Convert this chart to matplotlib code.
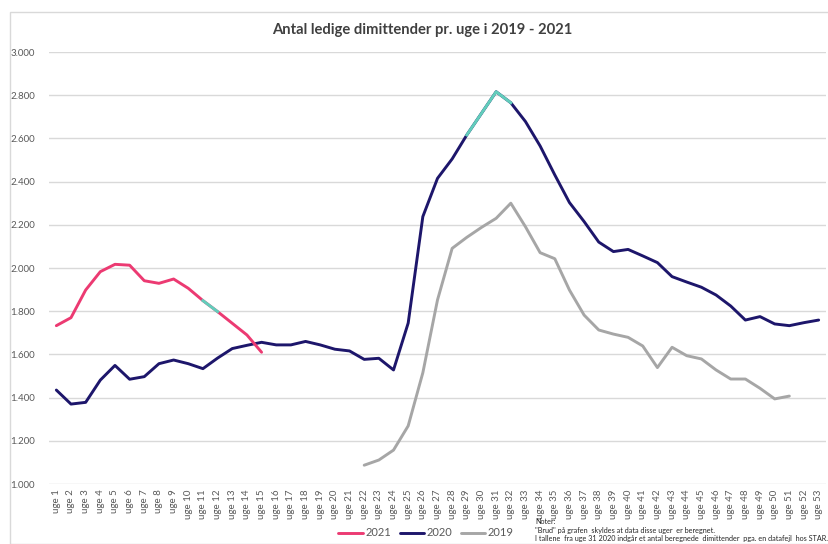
import numpy as np
import matplotlib.pyplot as plt
from matplotlib.patches import Rectangle

plt.rcParams['font.family'] = ['Lato', 'DejaVu Sans']

weeks = list(range(1, 54))
week_labels = [f"uge {w}" for w in weeks]

# 2021: uge 1-15
y2021 = [1733, 1770, 1898, 1983, 2017, 2013, 1941, 1929, 1949, 1906,
         1849, 1798, 1744, 1690, 1610]

# 2020: uge 1-53
y2020 = [1435, 1370, 1378, 1481, 1549, 1485, 1497, 1557, 1574, 1557,
         1534, 1583, 1627, 1642, 1656, 1644, 1644, 1660, 1644, 1624,
         1616, 1577, 1582, 1528, 1745, 2238, 2415, 2505, 2616, 2716,
         2816, 2765, 2678, 2565, 2431, 2303, 2215, 2120, 2076, 2086,
         2056, 2025, 1960, 1935, 1911, 1875, 1824, 1759, 1775, 1741,
         1733, 1747, 1759]

# 2019: uge 22-51
y2019 = [1087, 1111, 1157, 1269, 1515, 1852, 2091, 2142, 2188, 2230,
         2300, 2191, 2071, 2043, 1898, 1782, 1713, 1694, 1679, 1639,
         1539, 1633, 1594, 1579, 1528, 1486, 1486, 1443, 1394, 1407]
start2019 = 22

# "brud" (beregnede uger) - drawn in teal
brud2021 = (11, 12)
brud2020 = (29, 32)

c2021 = '#EC3A72'
c2020 = '#1D166B'
c2019 = '#A6A6A6'
cbrud = '#62CDBB'
txt = '#595959'

fig = plt.figure(figsize=(8.29, 5.44), dpi=100)
ax = fig.add_axes([49 / 829, 1 - 484 / 544, 777 / 829, 432 / 544])

# chart border
fig.patches.append(Rectangle((10 / 829, 0), 1, 1 - 12 / 544, transform=fig.transFigure,
                             fill=False, edgecolor='#D9D9D9', lw=1))

x2021 = weeks[:len(y2021)]
x2019 = list(range(start2019, start2019 + len(y2019)))

ax.plot(x2019, y2019, color=c2019, lw=2.1, label='2019', solid_capstyle='round')
ax.plot(weeks, y2020, color=c2020, lw=2.1, label='2020', solid_capstyle='round')
ax.plot(x2021, y2021, color=c2021, lw=2.1, label='2021', solid_capstyle='round')

a, b = brud2021
ax.plot(weeks[a - 1:b], y2021[a - 1:b], color=cbrud, lw=2.1)
a, b = brud2020
ax.plot(weeks[a - 1:b], y2020[a - 1:b], color=cbrud, lw=2.1)

ax.set_xlim(0.5, 53.5)
ax.set_ylim(1000, 3000)
ax.set_yticks(range(1000, 3001, 200))
ax.set_yticklabels([f"{v:,}".replace(',', '.') for v in range(1000, 3001, 200)])
ax.set_xticks(weeks)
ax.set_xticklabels(week_labels, rotation=90)
ax.tick_params(axis='both', length=0, colors=txt, labelsize=7)
ax.tick_params(axis='y', pad=10)
ax.tick_params(axis='x', pad=4)
ax.grid(axis='y', color='#D9D9D9', lw=1)
ax.set_axisbelow(True)
for s in ax.spines.values():
    s.set_visible(False)

fig.text(0.509, 1 - 30 / 544, 'Antal ledige dimittender pr. uge i 2019 - 2021',
         ha='center', va='center', fontsize=10.6, fontweight='bold', color='#404040')

h, l = ax.get_legend_handles_labels()
order = [2, 1, 0]
fig.legend([h[i] for i in order], [l[i] for i in order], loc='center',
           bbox_to_anchor=(426 / 829, 1 - 533 / 544), ncol=3, frameon=False,
           fontsize=8, labelcolor=txt, handlelength=2.2, handletextpad=0.2,
           columnspacing=0.8)

notes = ['Noter:',
         '"Brud" på grafen  skyldes at data disse uger  er beregnet.',
         'I tallene  fra uge 31 2020 indgår et antal beregnede  dimittender  pga. en datafejl  hos STAR.']
for i, n in enumerate(notes):
    fig.text(535 / 829, 1 - (521 + 9 * i) / 544, n, ha='left', va='center',
             fontsize=5.2, color='#262626')

fig.savefig('out.png', dpi=100)
